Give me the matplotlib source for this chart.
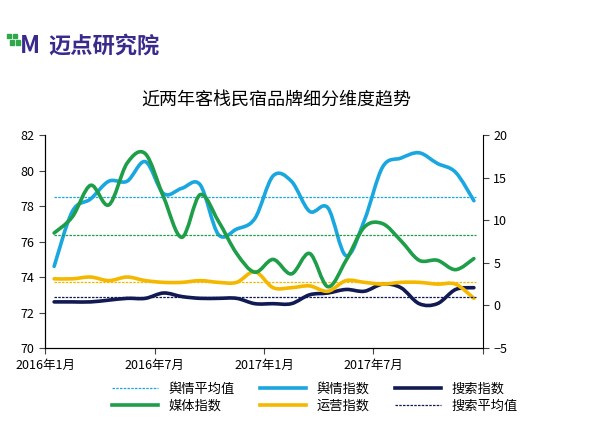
import matplotlib
matplotlib.use("Agg")
import matplotlib.pyplot as plt
import numpy as np
from matplotlib.path import Path
from matplotlib.patches import PathPatch, Rectangle

plt.rcParams['font.family'] = ['Noto Sans CJK SC', 'DejaVu Sans']

months = list(range(24))
tick_labels = ["2016年1月", "2016年7月", "2017年1月", "2017年7月"]
yuqing = [74.6, 77.7, 78.4, 79.4, 79.4, 80.5, 78.7, 79.0, 79.2, 76.4, 76.7, 77.3,
          79.7, 79.4, 77.7, 77.9, 75.2, 77.2, 80.2, 80.7, 81.0, 80.4, 79.9, 78.3]
meiti = [8.5, 10.4, 14.1, 11.8, 16.7, 17.8, 12.7, 8.0, 13.0, 9.9, 6.1, 3.9,
         5.4, 3.7, 6.1, 2.2, 5.3, 9.2, 9.6, 7.6, 5.3, 5.3, 4.2, 5.5]
yunying = [73.9, 73.9, 74.0, 73.8, 74.0, 73.8, 73.7, 73.7, 73.8, 73.7, 73.7, 74.3,
           73.4, 73.4, 73.5, 73.2, 73.8, 73.7, 73.6, 73.7, 73.7, 73.6, 73.6, 72.8]
sousuo = [72.6, 72.6, 72.6, 72.7, 72.8, 72.8, 73.1, 72.9, 72.8, 72.8, 72.8, 72.5,
          72.5, 72.5, 73.0, 73.1, 73.3, 73.2, 73.6, 73.4, 72.5, 72.5, 73.3, 73.4]
yuqing_avg = 78.5
meiti_avg_left = 76.35
yunying_avg = 73.7
sousuo_avg = 72.9

C_BLUE = "#1aa7e0"; C_GREEN = "#1e9e48"; C_YEL = "#f5b800"; C_NAVY = "#111a52"

def smooth_patch(ax, xs, ys, color, lw=2.6):
    xs = np.asarray(xs, float); ys = np.asarray(ys, float)
    n = len(xs)
    verts = [(xs[0], ys[0])]; codes = [Path.MOVETO]
    for i in range(n - 1):
        p0 = (xs[max(i-1, 0)], ys[max(i-1, 0)])
        p1 = (xs[i], ys[i]); p2 = (xs[i+1], ys[i+1])
        p3 = (xs[min(i+2, n-1)], ys[min(i+2, n-1)])
        c1 = (p1[0] + (p2[0]-p0[0])/6, p1[1] + (p2[1]-p0[1])/6)
        c2 = (p2[0] - (p3[0]-p1[0])/6, p2[1] - (p3[1]-p1[1])/6)
        verts += [c1, c2, p2]; codes += [Path.CURVE4]*3
    ax.add_patch(PathPatch(Path(verts, codes), fill=False, edgecolor=color, lw=lw,
                           capstyle='round', joinstyle='round'))

fig = plt.figure(figsize=(6, 4.26), dpi=100)
ax = fig.add_axes([0.075, 0.183, 0.73, 0.50])
ax2 = ax.twinx()

ax.set_xlim(-0.5, 23.5); ax.set_ylim(70, 82)
ax2.set_ylim(-5, 20)
ax.set_yticks(range(70, 83, 2)); ax2.set_yticks(range(-5, 21, 5))
ax.set_xticks([-0.5, 5.5, 11.5, 17.5, 23.5])
ax.set_xticklabels(tick_labels + [""])
for a in (ax, ax2):
    a.spines["top"].set_visible(False)
    a.tick_params(labelsize=9, direction='out', length=4, color="#444")
ax.spines["right"].set_visible(False)

ax.axhline(yuqing_avg, color=C_BLUE, ls=(0, (2, 1)), lw=0.9, xmin=0.02, xmax=0.985)
ax.axhline(meiti_avg_left, color=C_GREEN, ls=(0, (2, 1)), lw=0.9, xmin=0.02, xmax=0.985)
ax.axhline(yunying_avg, color=C_YEL, ls=(0, (2, 1)), lw=0.9, xmin=0.02, xmax=0.985)
ax.axhline(sousuo_avg, color=C_NAVY, ls=(0, (2, 1)), lw=0.9, xmin=0.02, xmax=0.985)

smooth_patch(ax, months, yuqing, C_BLUE)
smooth_patch(ax, months, sousuo, C_NAVY)
smooth_patch(ax, months, yunying, C_YEL)
smooth_patch(ax2, months, meiti, C_GREEN)

from matplotlib.lines import Line2D
handles = [
    Line2D([], [], color=C_BLUE, ls=(0, (2, 1)), lw=0.9),
    Line2D([], [], color=C_GREEN, lw=2.6),
    Line2D([], [], color=C_BLUE, lw=2.6),
    Line2D([], [], color=C_YEL, lw=2.6),
    Line2D([], [], color=C_NAVY, lw=2.6),
    Line2D([], [], color=C_NAVY, ls=(0, (2, 1)), lw=0.9),
]
labels = ["舆情平均值", "媒体指数", "舆情指数", "运营指数", "搜索指数", "搜索平均值"]
fig.legend(handles, labels, ncol=3, loc="upper center", bbox_to_anchor=(0.525, 0.13),
           frameon=False, fontsize=9.5, handlelength=3.5, columnspacing=1.9,
           handletextpad=0.8, labelspacing=0.3)

fig.text(0.46, 0.765, "近两年客栈民宿品牌细分维度趋势", ha="center", va="center", fontsize=13)
fig.text(0.033, 0.893, "M", color="#3a2a8c", fontsize=17, fontweight="bold", va="center", style="italic")
fig.text(0.08, 0.893, "迈点研究院", color="#3a2a8c", fontsize=16, fontweight="bold", va="center")
for (x, y) in [(0.012, 0.91), (0.022, 0.91), (0.017, 0.895), (0.027, 0.895)]:
    fig.patches.append(Rectangle((x, y), 0.007, 0.01, transform=fig.transFigure,
                                 color="#2ea84a", figure=fig))

fig.savefig("out.png", dpi=100)
